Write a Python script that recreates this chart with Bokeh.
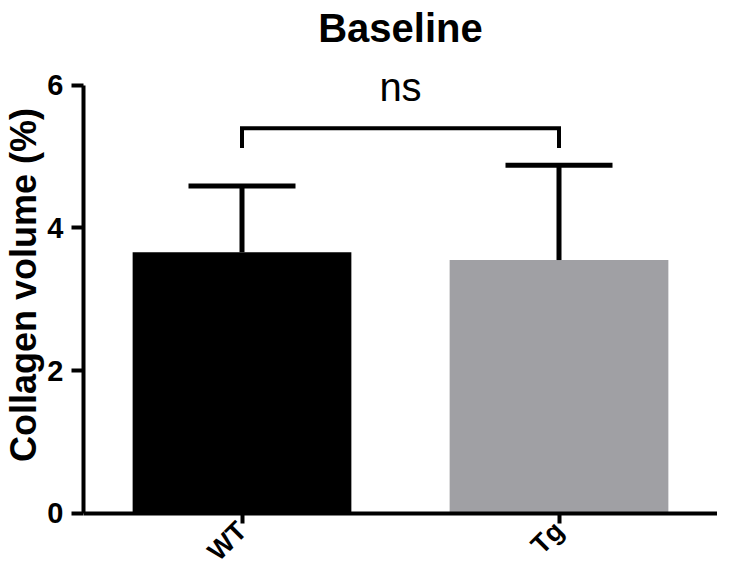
import math
from bokeh.plotting import figure
from bokeh.models import (ColumnDataSource, FactorRange, Range1d, Whisker, TeeHead, Label,
                          FixedTicker, CategoricalAxis)
from bokeh.embed import file_html
from bokeh.resources import INLINE

# ---- data ----
categories = ["WT", "Tg"]
means = [3.66, 3.55]
sd_upper = [4.59, 4.88]
bar_colors = ["#000000", "#a0a0a4"]
y_ticks = [0, 2, 4, 6]
y_axis_min = 0
y_axis_max = 6
bracket_top = 5.40
bracket_tip = 5.12
sig_text = "ns"
sig_y = 5.97
title_text = "Baseline"
title_y = 6.81

FONT = "Liberation Sans"

src = ColumnDataSource(dict(cat=categories, mean=means, upper=sd_upper, color=bar_colors))

p = figure(x_range=FactorRange(*categories), y_range=Range1d(-0.79, 7.19),
           width=717, height=569, output_backend="svg", toolbar_location=None,
           x_axis_location=None,
           min_border_left=77, min_border_right=0,
           min_border_top=0, min_border_bottom=0)

p.vbar(x="cat", top="mean", width=0.69, source=src, fill_color="color", line_color=None)

wh = Whisker(base="cat", upper="upper", lower="mean", source=src,
             upper_head=TeeHead(size=107, line_width=5, line_color="black"),
             lower_head=None, line_width=5, line_color="black", level="overlay")
p.add_layout(wh)

p.line(x=[categories[0], categories[0], categories[1], categories[1]],
       y=[bracket_tip, bracket_top, bracket_top, bracket_tip],
       line_width=4, line_color="black", line_join="miter")

p.add_layout(Label(x=1.0, y=sig_y, text=sig_text, text_font=FONT, text_font_size="40px",
                   text_align="center", text_baseline="middle", text_color="black"))

p.add_layout(Label(x=1.0, y=title_y, text=title_text, text_font=FONT, text_font_size="40px",
                   text_font_style="bold", text_align="center", text_baseline="alphabetic",
                   text_color="black"))

xaxis = CategoricalAxis(fixed_location=y_axis_min)
p.add_layout(xaxis, "below")

p.xgrid.visible = False
p.ygrid.visible = False
p.outline_line_color = None
p.background_fill_color = "white"
p.border_fill_color = "white"

for ax in (xaxis, p.yaxis[0]):
    ax.axis_line_width = 4
    ax.axis_line_color = "black"
    ax.major_tick_line_width = 4
    ax.major_tick_line_color = "black"
    ax.major_tick_in = 0
    ax.minor_tick_line_color = None
    ax.major_label_text_font = FONT
    ax.major_label_text_font_style = "bold"
    ax.major_label_text_color = "black"

yaxis = p.yaxis[0]
yaxis.bounds = (y_axis_min, y_axis_max)
yaxis.ticker = FixedTicker(ticks=y_ticks)
yaxis.major_tick_out = 12
yaxis.major_label_text_font_size = "29px"
yaxis.major_label_standoff = 8
yaxis.axis_label = "Collagen volume (%)"
yaxis.axis_label_text_font = FONT
yaxis.axis_label_text_font_size = "36px"
yaxis.axis_label_text_font_style = "bold"
yaxis.axis_label_text_color = "black"
yaxis.axis_label_standoff = 0

xaxis.major_tick_out = 10
xaxis.major_label_text_font_size = "27px"
xaxis.major_label_orientation = math.pi / 4
xaxis.major_label_standoff = 3

open("out.html", "w").write(file_html(p, INLINE))
